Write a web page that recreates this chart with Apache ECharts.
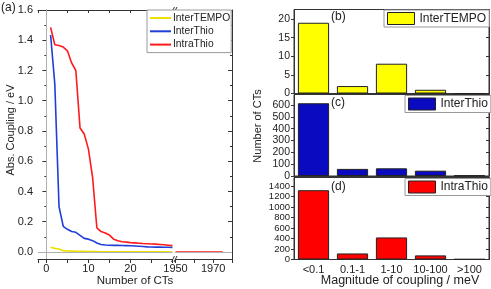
<!DOCTYPE html>
<html><head><meta charset="utf-8">
<script src="https://cdn.jsdelivr.net/npm/echarts@6/dist/echarts.min.js"></script>
<style>html,body{margin:0;padding:0;background:#fff}#c{width:491px;height:289px}</style>
</head><body><div id="c"></div>
<script>
// ---- data ----
const ctIndex = [1,2,3,4,5,6,7,8,9,10,11,12,13,14,15,16,17,18,19,20,21,22,23,24,25,26,27,28,29,30];
const interTEMPOcoupling = [0.031,0.024,0.020,0.009,0.007,0.006,0.005,0.004,0.004,0.003,0.003,0.003,0.002,0.002,0.002,0.002,0.002,0.001,0.001,0.001,0.001,0.001,0.001,0.001,0.001,0.001,0.0005,0.0005,0.0005,0.0003];
const interThioCoupling = [1.435,1.11,0.30,0.17,0.15,0.135,0.13,0.11,0.09,0.085,0.075,0.06,0.05,0.046,0.045,0.044,0.044,0.043,0.042,0.041,0.040,0.038,0.036,0.034,0.033,0.032,0.032,0.031,0.031,0.030];
const intraThioCoupling = [1.485,1.37,1.365,1.355,1.33,1.25,1.20,0.82,0.78,0.68,0.49,0.16,0.135,0.125,0.112,0.085,0.075,0.068,0.065,0.062,0.060,0.058,0.056,0.055,0.053,0.052,0.050,0.048,0.045,0.042];
const intraThioTailIndex = [1950, 1975];
const intraThioTailCoupling = [0, 0];
const magnitudeBins = ['<0.1','0.1-1','1-10','10-100','>100'];
const interTEMPOcounts = [19, 2, 8, 1, 0];
const interThioCounts = [615, 60, 65, 45, 5];
const intraThioCounts = [1320, 115, 420, 78, 6];

// ---- chart ----
const FONT = '"Liberation Sans", Arial, sans-serif';
const AX = '#333';
const C_YEL_LINE = '#ece000', C_BLUE_LINE = '#1f3fd8', C_RED_LINE = '#ff1a1a';
const C_YEL = '#ffff00', C_BLUE = '#0a0ac0', C_RED = '#ff0000';
const zip = (xs, ys) => xs.map((x, i) => [x, ys[i]]);
const lbl = {fontFamily: FONT, fontSize: 11, color: '#222'};

const chart = echarts.init(document.getElementById('c'), null, {renderer: 'canvas'});

const leftY = (gi, pos, labels) => ({
  gridIndex: gi, type: 'value', position: pos, min: -0.0463, max: 1.6,
  splitNumber: 8, minInterval: 0.2, maxInterval: 0.2,
  axisLine: {show: true, lineStyle: {color: AX}},
  axisTick: {show: true, inside: !labels, length: 4, lineStyle: {color: AX}},
  minorTick: {show: true, splitNumber: 2, length: 2, lineStyle: {color: AX}},
  axisLabel: {show: labels, ...lbl, margin: 5, showMinLabel: false,
    formatter: v => (Math.abs(v / 0.2 - Math.round(v / 0.2)) < 1e-6) ? v.toFixed(1) : ''},
  splitLine: {show: false}
});
const leftX = (gi, pos, min, max, step, labels, fmt) => ({
  gridIndex: gi, type: 'value', position: pos, min, max,
  splitNumber: Math.round((max - min) / step), minInterval: step, maxInterval: step,
  axisLine: {show: true, onZero: false, lineStyle: {color: AX}},
  axisTick: {show: true, inside: !labels, length: labels ? 4 : 3, lineStyle: {color: AX}},
  axisLabel: {show: labels, ...lbl, margin: 4, showMinLabel: true, showMaxLabel: true, formatter: fmt},
  splitLine: {show: false}
});
const barX = (gi, labels) => ({
  gridIndex: gi, type: 'category', data: magnitudeBins,
  axisLine: {show: true, lineStyle: {color: AX}},
  axisTick: {show: false},
  axisLabel: {show: labels, ...lbl, fontSize: 11, margin: 5, interval: 0},
  splitLine: {show: false}
});
const barY = (gi, max, interval, pos, labels, fs) => ({
  gridIndex: gi, type: 'value', position: pos, min: 0, max, interval,
  axisLine: {show: true, lineStyle: {color: AX}},
  axisTick: {show: true, inside: !labels, length: 3, lineStyle: {color: AX}},
  axisLabel: {show: labels, ...lbl, fontSize: fs || 10, margin: 4, showMaxLabel: false, formatter: v => String(v)},
  splitLine: {show: false}
});

const option = {
  animation: false,
  backgroundColor: '#fff',
  textStyle: {fontFamily: FONT},
  grid: [
    {left: 38, top: 10, width: 134.5, height: 249},
    {left: 175.5, top: 10, width: 56.5, height: 249},
    {left: 294, top: 9.5, width: 195, height: 84, show: true, borderColor: AX, borderWidth: 1},
    {left: 294, top: 94.5, width: 195, height: 81.5, show: true, borderColor: AX, borderWidth: 1},
    {left: 294, top: 177.5, width: 195, height: 82, show: true, borderColor: AX, borderWidth: 1}
  ],
  xAxis: [
    leftX(0, 'bottom', -2, 30, 5, true, v => (v % 10 === 0 && v >= 0 && v < 30) ? String(v) : ''),
    leftX(0, 'top', -2, 30, 5, false),
    leftX(1, 'bottom', 1950, 1980, 10, true, v => (v === 1950 || v === 1970) ? String(v) : ''),
    leftX(1, 'top', 1950, 1980, 10, false),
    barX(2, false), barX(3, false), barX(4, true)
  ],
  yAxis: [
    leftY(0, 'left', true),
    leftY(1, 'right', false),
    barY(2, 22.56, 5, 'left', true, 10.5),
    barY(3, 689, 100, 'left', true, 10.5),
    barY(4, 1562, 200, 'left', true, 9.5),
    barY(2, 22.56, 5, 'right', false),
    barY(3, 689, 100, 'right', false),
    barY(4, 1562, 200, 'right', false)
  ],
  legend: [
    {
      data: ['InterTEMPO', 'InterThio', 'IntraThio'], orient: 'vertical',
      left: 147, top: 10, itemWidth: 21, itemHeight: 10, itemGap: 3.3,
      padding: [3, 1, 3, 2], borderColor: '#999', borderWidth: 1, backgroundColor: '#fff',
      itemStyle: {opacity: 0},
      textStyle: {fontFamily: FONT, fontSize: 10.3, color: '#222', padding: [0, 0, 0, -3]}
    },
    {data: ['InterTEMPO'], icon: 'rect', left: 384, top: 10, itemWidth: 27, itemHeight: 12, itemGap: 4,
      padding: [2, 3, 2, 3], borderColor: '#999', borderWidth: 1, backgroundColor: '#fff',
      itemStyle: {color: C_YEL, borderColor: '#222', borderWidth: 1},
      textStyle: {fontFamily: FONT, fontSize: 12, color: '#222'}},
    {data: ['InterThio'], icon: 'rect', left: 405, top: 95.5, itemWidth: 27, itemHeight: 12,
      padding: [2, 3, 2, 3], borderColor: '#999', borderWidth: 1, backgroundColor: '#fff',
      itemStyle: {color: C_BLUE, borderColor: '#222', borderWidth: 1},
      textStyle: {fontFamily: FONT, fontSize: 12, color: '#222'}},
    {data: ['IntraThio'], icon: 'rect', left: 405, top: 178.5, itemWidth: 27, itemHeight: 12,
      padding: [2, 3, 2, 3], borderColor: '#999', borderWidth: 1, backgroundColor: '#fff',
      itemStyle: {color: C_RED, borderColor: '#222', borderWidth: 1},
      textStyle: {fontFamily: FONT, fontSize: 12, color: '#222'}}
  ],
  series: [
    {type: 'line', name: 'InterTEMPO', xAxisIndex: 0, yAxisIndex: 0, data: zip(ctIndex, interTEMPOcoupling),
      symbol: 'none', lineStyle: {color: C_YEL_LINE, width: 1.6}, itemStyle: {color: C_YEL_LINE}, z: 3,
      markLine: {silent: true, symbol: 'none', label: {show: false}, animation: false,
        lineStyle: {color: '#b0b0b0', width: 1, type: 'solid'}, data: [{xAxis: 0}, {yAxis: 0}]}},
    {type: 'line', name: 'InterThio', xAxisIndex: 0, yAxisIndex: 0, data: zip(ctIndex, interThioCoupling),
      symbol: 'none', lineStyle: {color: C_BLUE_LINE, width: 1.6}, itemStyle: {color: C_BLUE_LINE}, z: 3},
    {type: 'line', name: 'IntraThio', xAxisIndex: 0, yAxisIndex: 0, data: zip(ctIndex, intraThioCoupling),
      symbol: 'none', lineStyle: {color: C_RED_LINE, width: 1.6}, itemStyle: {color: C_RED_LINE}, z: 3},
    {type: 'line', name: 'IntraThio', xAxisIndex: 2, yAxisIndex: 1, data: zip(intraThioTailIndex, intraThioTailCoupling),
      symbol: 'none', lineStyle: {color: C_RED_LINE, width: 1.6}, itemStyle: {color: C_RED_LINE}, z: 3,
      markLine: {silent: true, symbol: 'none', label: {show: false}, animation: false,
        lineStyle: {color: '#b0b0b0', width: 1, type: 'solid'}, data: [{yAxis: 0}]}},
    {type: 'bar', name: 'InterTEMPO', xAxisIndex: 4, yAxisIndex: 2, data: interTEMPOcounts, barCategoryGap: '20%',
      itemStyle: {color: C_YEL, borderColor: '#222', borderWidth: 1}},
    {type: 'bar', name: 'InterThio', xAxisIndex: 5, yAxisIndex: 3, data: interThioCounts, barCategoryGap: '20%',
      itemStyle: {color: C_BLUE, borderColor: '#222', borderWidth: 1}},
    {type: 'bar', name: 'IntraThio', xAxisIndex: 6, yAxisIndex: 4, data: intraThioCounts, barCategoryGap: '20%',
      itemStyle: {color: C_RED, borderColor: '#222', borderWidth: 1}}
  ],
  graphic: [
    {type: 'text', left: 1, top: 2, style: {text: '(a)', font: '12px ' + FONT, fill: '#222'}},
    {type: 'text', left: 331, top: 11, style: {text: '(b)', font: '12px ' + FONT, fill: '#222'}},
    {type: 'text', left: 331, top: 97, style: {text: '(c)', font: '12px ' + FONT, fill: '#222'}},
    {type: 'text', left: 331, top: 181, style: {text: '(d)', font: '12px ' + FONT, fill: '#222'}},
    {type: 'text', x: 11, y: 130, rotation: Math.PI / 2,
      style: {text: 'Abs. Coupling / eV', font: '11px ' + FONT, fill: '#222', align: 'center', verticalAlign: 'middle'}},
    {type: 'text', x: 258, y: 126, rotation: Math.PI / 2,
      style: {text: 'Number of CTs', font: '11px ' + FONT, fill: '#222', align: 'center', verticalAlign: 'middle'}},
    {type: 'text', x: 135, y: 281, style: {text: 'Number of CTs', font: '11.5px ' + FONT, fill: '#222', align: 'center', verticalAlign: 'middle'}},
    {type: 'text', x: 400, y: 281, style: {text: 'Magnitude of coupling / meV', font: '12.5px ' + FONT, fill: '#222', align: 'center', verticalAlign: 'middle'}},
    {type: 'line', shape: {x1: 171.5, y1: 262, x2: 174.5, y2: 256}, style: {stroke: AX, lineWidth: 1}},
    {type: 'line', shape: {x1: 174, y1: 262, x2: 177, y2: 256}, style: {stroke: AX, lineWidth: 1}},
    {type: 'line', shape: {x1: 171.5, y1: 13, x2: 174.5, y2: 7}, style: {stroke: AX, lineWidth: 1}},
    {type: 'line', shape: {x1: 174, y1: 13, x2: 177, y2: 7}, style: {stroke: AX, lineWidth: 1}}
  ]
};
chart.setOption(option);
</script>
</body></html>
